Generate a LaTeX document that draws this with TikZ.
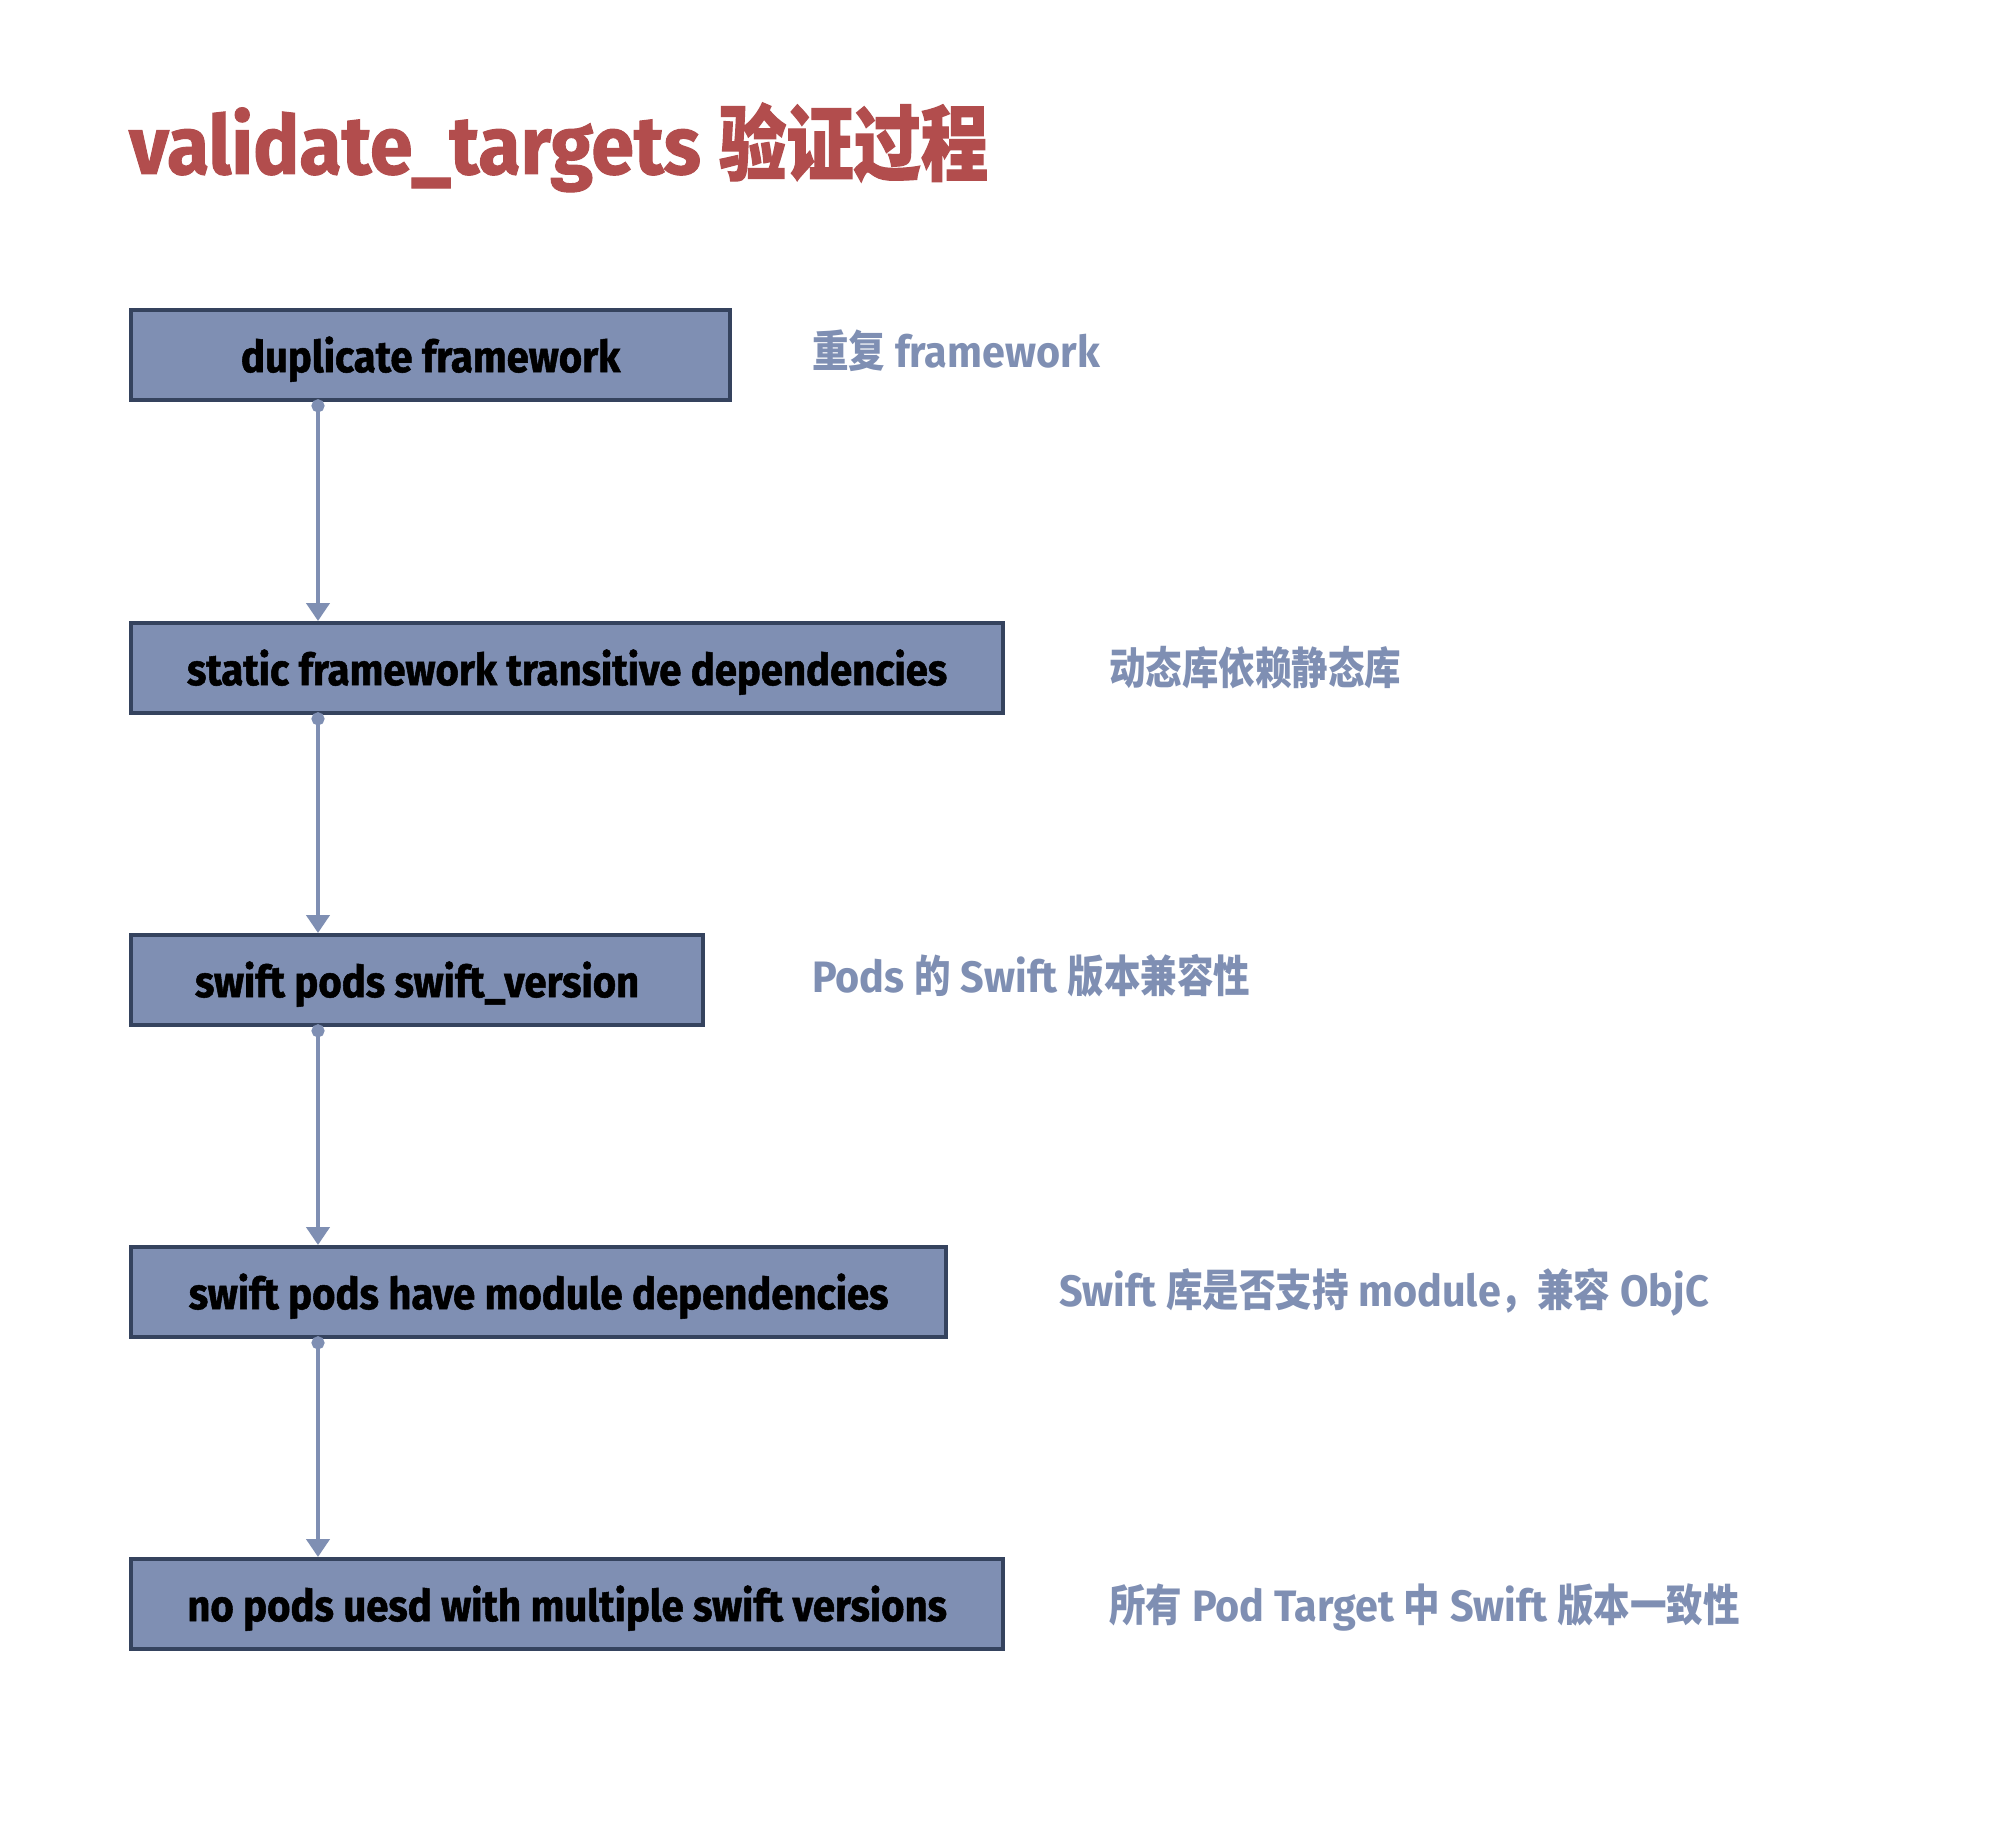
\documentclass[tikz,border=0pt]{standalone}
\usepackage{fontspec}
\usetikzlibrary{arrows.meta}
\newfontfamily\lat[FakeStretch=0.94]{Fira Sans}
\newfontfamily\latheavy[FakeStretch=0.91,FakeBold=1.2]{Fira Sans}
\newfontfamily\lattitle[FakeStretch=0.94,FakeBold=1.2]{Fira Sans}
\newfontfamily\cjk[FakeStretch=0.83]{Noto Sans CJK SC}
\newfontfamily\cjkheavy[FakeStretch=0.82,FakeBold=1.5]{Noto Sans CJK SC}
\definecolor{titlered}{HTML}{B24D4D}
\definecolor{boxfill}{HTML}{7F8FB3}
\definecolor{boxline}{HTML}{35435E}
\definecolor{labelcol}{HTML}{7F8FB3}
\tikzset{
  stepbox/.style={draw=boxline, fill=boxfill, line width=4.3pt, anchor=north west,
    minimum height=90pt, inner sep=0pt, text height=34pt, text depth=0pt,
    font=\latheavy\bfseries\fontsize{44}{48}\selectfont, text=black},
  sidelabel/.style={anchor=base west, inner sep=0pt, text=labelcol,
    font=\lat\bfseries\fontsize{44}{48}\selectfont},
  conn/.style={draw=boxfill, line width=4.3pt,
    {Circle[length=13pt,width=13pt]}-{Triangle[length=18pt,width=23pt]}},
}
\begin{document}
\begin{tikzpicture}[x=1pt,y=-1pt]
\fill[white] (0,0) rectangle (1989,1835);
\path[use as bounding box] (0,0) rectangle (1989,1835);
\node[anchor=base west, inner sep=0pt, text=titlered, font=\lattitle\bfseries\fontsize{82}{90}\selectfont]
  (title) at (129,174) {validate\_targets {\cjkheavy\bfseries 验证过程}};
\node[stepbox, minimum width=599pt] (b1) at (129,308) {duplicate framework};
\node[stepbox, minimum width=872pt] (b2) at (129,621) {static framework transitive dependencies};
\node[stepbox, minimum width=572pt] (b3) at (129,933) {swift pods swift\_version};
\node[stepbox, minimum width=815pt] (b4) at (129,1245) {swift pods have module dependencies};
\node[stepbox, minimum width=872pt] (b5) at (129,1557) {no pods uesd with multiple swift versions};
\coordinate (ax) at (318,0);
\draw[conn] ([yshift=3pt]ax |- b1.south) -- (ax |- b2.north);
\draw[conn] ([yshift=3pt]ax |- b2.south) -- (ax |- b3.north);
\draw[conn] ([yshift=3pt]ax |- b3.south) -- (ax |- b4.north);
\draw[conn] ([yshift=3pt]ax |- b4.south) -- (ax |- b5.north);
\node[sidelabel] (l1) at (812,367) {{\cjk\bfseries 重复} framework};
\node[sidelabel] (l2) at (1109,684) {\cjk\bfseries 动态库依赖静态库};
\node[sidelabel] (l3) at (812,992) {Pods {\cjk\bfseries 的} Swift {\cjk\bfseries 版本兼容性}};
\node[sidelabel] (l4) at (1059,1306) {Swift {\cjk\bfseries 库是否支持} module{\cjk\bfseries ，兼容} ObjC};
\node[sidelabel] (l5) at (1109,1621) {{\cjk\bfseries 所有} Pod Target {\cjk\bfseries 中} Swift {\cjk\bfseries 版本一致性}};
\end{tikzpicture}
\end{document}
